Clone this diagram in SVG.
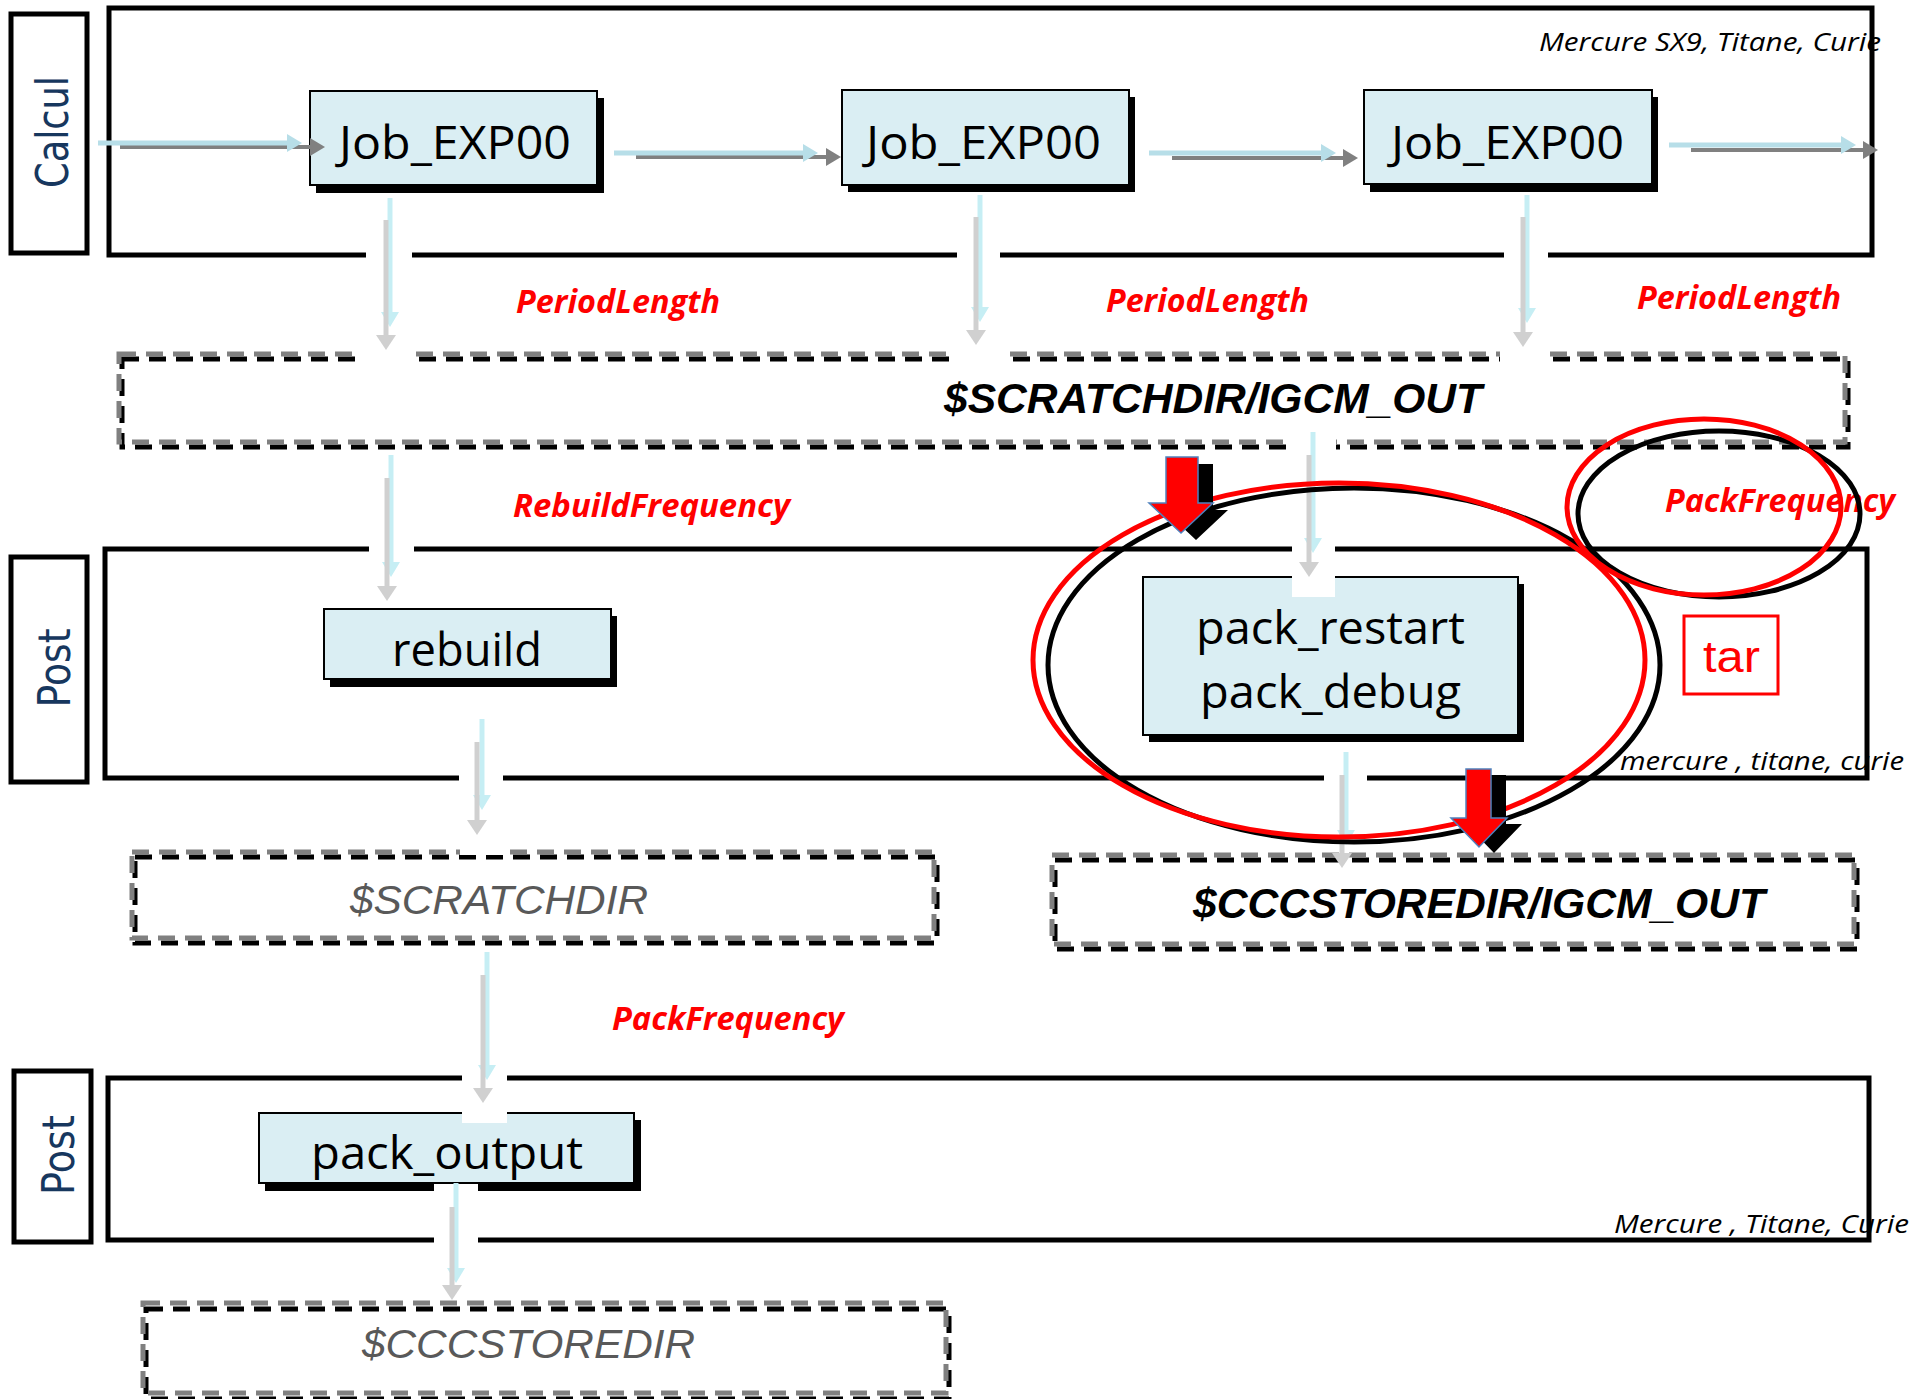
<svg xmlns="http://www.w3.org/2000/svg" width="1923" height="1399" viewBox="0 0 1923 1399">
<style>
.frame{fill:none;stroke:#000;stroke-width:5}
.lbox{fill:#fff;stroke:#000;stroke-width:5}
.lane{font-family:"DejaVu Sans",Verdana,sans-serif;font-size:44px;fill:#17375E;text-anchor:middle}
.node{fill:#DAEEF3;stroke:#000;stroke-width:2}
.shadow{fill:#000}
.ntext{font-family:"Open Sans","Noto Sans",sans-serif;font-size:46px;fill:#000}
.dg{fill:none;stroke:#808080;stroke-width:5;stroke-dasharray:17 10}
.db{fill:none;stroke:#000;stroke-width:5;stroke-dasharray:17 10}
.dirb{font-family:"Liberation Sans",Arial,sans-serif;font-size:42px;font-weight:bold;font-style:italic;fill:#000}
.dirg{font-family:"Liberation Sans",Arial,sans-serif;font-size:40px;font-style:italic;fill:#595959}
.red{font-family:"Open Sans","Noto Sans",sans-serif;font-size:32px;font-weight:bold;font-style:italic;fill:#FF0000}
.mach{font-family:"Open Sans","Noto Sans",sans-serif;font-size:26px;font-style:italic;fill:#000}
.ko{fill:#fff}
.hc{stroke:#B7DEE8;stroke-width:5;fill:none}
.hg{stroke:#808080;stroke-width:4;fill:none}
.vc{stroke:#C6EEF4;stroke-width:5;fill:none}
.vg{stroke:#D0D0D0;stroke-width:5;fill:none}
</style>
<defs>
<marker id="mhc" markerUnits="userSpaceOnUse" markerWidth="16" markerHeight="18" refX="1" refY="9" orient="auto"><path d="M0,0 L15,9 L0,18 z" fill="#B7DEE8"/></marker>
<marker id="mhg" markerUnits="userSpaceOnUse" markerWidth="16" markerHeight="18" refX="1" refY="9" orient="auto"><path d="M0,0 L15,9 L0,18 z" fill="#808080"/></marker>
<marker id="mvc" markerUnits="userSpaceOnUse" markerWidth="16" markerHeight="18" refX="1" refY="9" orient="auto"><path d="M0,0 L15,9 L0,18 z" fill="#C6EEF4"/></marker>
<marker id="mvg" markerUnits="userSpaceOnUse" markerWidth="16" markerHeight="20" refX="1" refY="10" orient="auto"><path d="M0,0 L15,10 L0,20 z" fill="#D0D0D0"/></marker>
</defs>
<rect width="1923" height="1399" fill="#fff"/>

<g id="machine-labels">
<text class="mach" x="1539" y="51" textLength="342" lengthAdjust="spacingAndGlyphs">Mercure SX9, Titane, Curie</text>
<text class="mach" x="1620" y="770" textLength="284" lengthAdjust="spacingAndGlyphs">mercure , titane, curie</text>
<text class="mach" x="1614" y="1233" font-size="27" textLength="295" lengthAdjust="spacingAndGlyphs">Mercure , Titane, Curie</text>
</g>

<g id="lane-calcul">
<rect class="frame" x="109" y="8" width="1763" height="247"/>
<rect class="lbox" x="11" y="14" width="76" height="239"/>
<text class="lane" transform="translate(68,132) rotate(-90)" textLength="112" lengthAdjust="spacingAndGlyphs">Calcul</text>
</g>
<g id="lane-post1">
<rect class="frame" x="105" y="549" width="1762" height="229"/>
<rect class="lbox" x="11" y="557" width="76" height="225"/>
<text class="lane" transform="translate(70,668) rotate(-90)" textLength="79" lengthAdjust="spacingAndGlyphs">Post</text>
</g>
<g id="lane-post2">
<rect class="frame" x="108" y="1078" width="1761" height="162"/>
<rect class="lbox" x="14" y="1071" width="77" height="171"/>
<text class="lane" transform="translate(74,1155) rotate(-90)" textLength="80" lengthAdjust="spacingAndGlyphs">Post</text>
</g>

<g id="dir-scratch-igcm">
<rect class="db" x="122" y="359" width="1726" height="88"/>
<rect class="dg" x="119" y="354" width="1726" height="88"/>
<text class="dirb" x="944" y="413" textLength="538" lengthAdjust="spacingAndGlyphs">$SCRATCHDIR/IGCM_OUT</text>
</g>
<g id="dir-scratch">
<rect class="db" x="135" y="857" width="802" height="86"/>
<rect class="dg" x="132" y="852" width="802" height="86"/>
<text class="dirg" x="350" y="914" textLength="298" lengthAdjust="spacingAndGlyphs">$SCRATCHDIR</text>
</g>
<g id="dir-store-igcm">
<rect class="db" x="1055" y="860" width="802" height="89"/>
<rect class="dg" x="1052" y="855" width="802" height="89"/>
<text class="dirb" x="1193" y="918" font-size="40" textLength="572" lengthAdjust="spacingAndGlyphs">$CCCSTOREDIR/IGCM_OUT</text>
</g>
<g id="dir-store">
<rect class="db" x="146" y="1309" width="803" height="90"/>
<rect class="dg" x="143" y="1303" width="803" height="90"/>
<text class="dirg" x="362" y="1358" textLength="333" lengthAdjust="spacingAndGlyphs">$CCCSTOREDIR</text>
</g>

<g id="job1">
<rect class="shadow" x="316" y="98" width="288" height="95"/>
<rect class="node" x="310" y="91" width="287" height="94"/>
<text class="ntext" x="339" y="159" textLength="232" lengthAdjust="spacingAndGlyphs">Job_EXP00</text>
</g>
<g id="job2">
<rect class="shadow" x="848" y="97" width="287" height="95"/>
<rect class="node" x="842" y="90" width="287" height="95"/>
<text class="ntext" x="866" y="159" textLength="235" lengthAdjust="spacingAndGlyphs">Job_EXP00</text>
</g>
<g id="job3">
<rect class="shadow" x="1370" y="97" width="288" height="95"/>
<rect class="node" x="1364" y="90" width="288" height="94"/>
<text class="ntext" x="1391" y="159" textLength="233" lengthAdjust="spacingAndGlyphs">Job_EXP00</text>
</g>
<g id="rebuild">
<rect class="shadow" x="330" y="616" width="287" height="71"/>
<rect class="node" x="324" y="609" width="287" height="70"/>
<text class="ntext" x="392" y="666" textLength="150" lengthAdjust="spacingAndGlyphs">rebuild</text>
</g>
<g id="pack-restart-debug">
<rect class="shadow" x="1149" y="584" width="375" height="158"/>
<rect class="node" x="1143" y="577" width="375" height="158"/>
<text class="ntext" x="1196" y="644" textLength="269" lengthAdjust="spacingAndGlyphs">pack_restart</text>
<text class="ntext" x="1200" y="708" textLength="261" lengthAdjust="spacingAndGlyphs">pack_debug</text>
</g>
<g id="pack-output">
<rect class="shadow" x="265" y="1120" width="376" height="71"/>
<rect class="node" x="259" y="1113" width="375" height="70"/>
<text class="ntext" x="311" y="1169" textLength="272" lengthAdjust="spacingAndGlyphs">pack_output</text>
</g>

<g id="gaps">
<rect class="ko" x="366" y="250" width="46" height="12"/>
<rect class="ko" x="957" y="250" width="43" height="12"/>
<rect class="ko" x="1504" y="250" width="44" height="12"/>
<rect class="ko" x="358" y="349" width="53" height="16"/>
<rect class="ko" x="955" y="349" width="53" height="16"/>
<rect class="ko" x="1500" y="349" width="48" height="16"/>
<rect class="ko" x="1292" y="437" width="44" height="16"/>
<rect class="ko" x="369" y="544" width="45" height="11"/>
<rect class="ko" x="1292" y="544" width="43" height="53"/>
<rect class="ko" x="459" y="773" width="44" height="11"/>
<rect class="ko" x="1324" y="773" width="43" height="11"/>
<rect class="ko" x="460" y="849" width="48" height="6"/>
<rect class="ko" x="462" y="1073" width="45" height="50"/>
<rect class="ko" x="434" y="1184" width="44" height="62"/>
</g>

<g id="connectors">
<line class="hg" x1="120" y1="147" x2="311" y2="147" marker-end="url(#mhg)"/>
<line class="hc" x1="98" y1="143" x2="288" y2="143" marker-end="url(#mhc)"/>
<line class="hg" x1="636" y1="157" x2="827" y2="157" marker-end="url(#mhg)"/>
<line class="hc" x1="614" y1="153" x2="804" y2="153" marker-end="url(#mhc)"/>
<line class="hg" x1="1172" y1="158" x2="1344" y2="158" marker-end="url(#mhg)"/>
<line class="hc" x1="1149" y1="153" x2="1322" y2="153" marker-end="url(#mhc)"/>
<line class="hg" x1="1691" y1="150" x2="1864" y2="150" marker-end="url(#mhg)"/>
<line class="hc" x1="1669" y1="145" x2="1842" y2="145" marker-end="url(#mhc)"/>

<line class="vc" x1="390" y1="198" x2="390" y2="313" marker-end="url(#mvc)"/>
<line class="vg" x1="386" y1="220" x2="386" y2="336" marker-end="url(#mvg)"/>
<line class="vc" x1="980" y1="195" x2="980" y2="308" marker-end="url(#mvc)"/>
<line class="vg" x1="976" y1="217" x2="976" y2="331" marker-end="url(#mvg)"/>
<line class="vc" x1="1527" y1="195" x2="1527" y2="309" marker-end="url(#mvc)"/>
<line class="vg" x1="1523" y1="217" x2="1523" y2="333" marker-end="url(#mvg)"/>
<line class="vc" x1="391" y1="455" x2="391" y2="563" marker-end="url(#mvc)"/>
<line class="vg" x1="387" y1="478" x2="387" y2="587" marker-end="url(#mvg)"/>
<line class="vc" x1="482" y1="719" x2="482" y2="796" marker-end="url(#mvc)"/>
<line class="vg" x1="477" y1="742" x2="477" y2="821" marker-end="url(#mvg)"/>
<line class="vc" x1="487" y1="952" x2="487" y2="1066" marker-end="url(#mvc)"/>
<line class="vg" x1="483" y1="975" x2="483" y2="1089" marker-end="url(#mvg)"/>
<line class="vc" x1="456" y1="1183" x2="456" y2="1269" marker-end="url(#mvc)"/>
<line class="vg" x1="452" y1="1207" x2="452" y2="1286" marker-end="url(#mvg)"/>
<line class="vc" x1="1313" y1="432" x2="1313" y2="539" marker-end="url(#mvc)"/>
<line class="vg" x1="1309" y1="455" x2="1309" y2="563" marker-end="url(#mvg)"/>
<line class="vc" x1="1346" y1="752" x2="1346" y2="831" marker-end="url(#mvc)"/>
<line class="vg" x1="1342" y1="775" x2="1342" y2="854" marker-end="url(#mvg)"/>
</g>

<g id="frequency-labels">
<text class="red" x="516" y="313" textLength="204" lengthAdjust="spacingAndGlyphs">PeriodLength</text>
<text class="red" x="1106" y="312" textLength="203" lengthAdjust="spacingAndGlyphs">PeriodLength</text>
<text class="red" x="1637" y="309" textLength="204" lengthAdjust="spacingAndGlyphs">PeriodLength</text>
<text class="red" x="513" y="517" textLength="277" lengthAdjust="spacingAndGlyphs">RebuildFrequency</text>
<text class="red" x="1665" y="512" textLength="230" lengthAdjust="spacingAndGlyphs">PackFrequency</text>
<text class="red" x="612" y="1030" textLength="232" lengthAdjust="spacingAndGlyphs">PackFrequency</text>
</g>

<g id="tar">
<rect x="1684" y="616" width="94" height="78" fill="#fff" stroke="#FF0000" stroke-width="3"/>
<text x="1703" y="672" font-family="Liberation Sans, Arial, sans-serif" font-size="44" fill="#FF0000" textLength="57" lengthAdjust="spacingAndGlyphs">tar</text>
</g>

<g id="highlights" fill="none" stroke-width="5">
<ellipse cx="1354" cy="665" rx="306" ry="177" stroke="#000"/>
<ellipse cx="1339" cy="660" rx="306" ry="177" stroke="#FF0000"/>
<ellipse cx="1719" cy="514" rx="141" ry="83" stroke="#000"/>
<ellipse cx="1704" cy="507" rx="137" ry="88" stroke="#FF0000"/>
</g>

<g id="red-arrows">
<polygon points="1181,464 1213,464 1213,510 1228,510 1196,540 1164,510 1181,510" fill="#000"/>
<polygon points="1166,457 1198,457 1198,503 1213,503 1181,533 1149,503 1166,503" fill="#FF0000" stroke="#4F81BD" stroke-width="1.5"/>
<polygon points="1481,775 1506,775 1506,824 1522,824 1494,853 1466,824 1481,824" fill="#000"/>
<polygon points="1466,769 1491,769 1491,818 1507,818 1479,847 1451,818 1466,818" fill="#FF0000" stroke="#4F81BD" stroke-width="1.5"/>
</g>
</svg>
